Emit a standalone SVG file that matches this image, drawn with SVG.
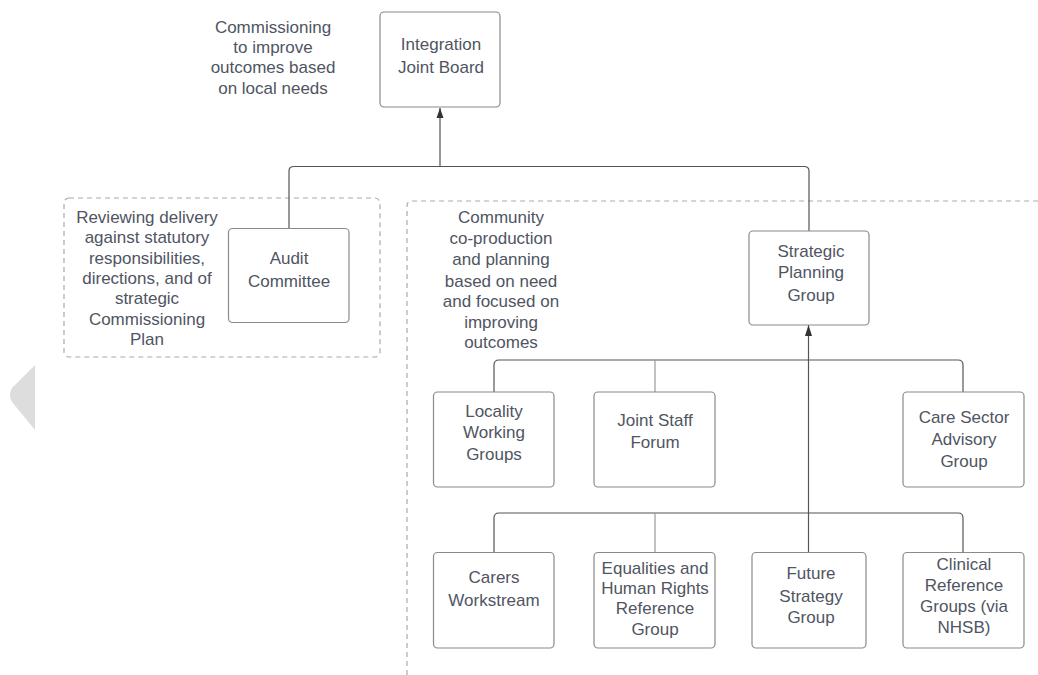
<svg xmlns="http://www.w3.org/2000/svg" width="1038" height="675" viewBox="0 0 1038 675">
<style>
  .box{fill:#fff;stroke:#8a8a8a;stroke-width:1.2}
  .dash{fill:none;stroke:#aaa;stroke-width:1.2;stroke-dasharray:5 4}
  .conn{fill:none;stroke:#555;stroke-width:1.2}
  .lite{fill:none;stroke:#999;stroke-width:1.2}
  text{font-family:"Liberation Sans",Arial,sans-serif;font-size:17px;fill:#4f5562;text-anchor:middle}
</style>
<defs>
  <marker id="arr" markerWidth="8" markerHeight="11" refX="4" refY="0" orient="auto-start-reverse" markerUnits="userSpaceOnUse" viewBox="0 0 8 11">
    <path d="M0,11 L4,0 L8,11 Z" fill="#333"/>
  </marker>
</defs>
<rect width="1038" height="675" fill="#fff"/>
<path d="M35,365 L12,388 Q8,395 12,402 L35,430 Z" fill="#ddd"/>

<g id="regions">
  <rect class="dash" x="64" y="198" width="316" height="159" rx="5"/>
  <path class="dash" d="M407,675 L407,206 Q407,201 412,201 L1038,201"/>
</g>

<g id="connectors">
  <path class="conn" d="M289,229 L289,171 Q289,166.5 294,166.5 L804,166.5 Q809,166.5 809,171 L809,231"/>
  <path class="conn" d="M440,166.5 L440,108"/>
  <path d="M440,108 L436.5,118 L443.5,118 Z" fill="#333"/>
  <path class="conn" d="M808.5,553 L808.5,325"/>
  <path d="M808.5,325 L805,336 L812,336 Z" fill="#333"/>
  <path class="conn" d="M494,392 L494,365 Q494,360 499,360 L958,360 Q963,360 963,365 L963,392"/>
  <path class="lite" d="M655,360 L655,392"/>
  <path class="conn" d="M494,552 L494,518 Q494,513 499,513 L958,513 Q963,513 963,518 L963,552"/>
  <path class="lite" d="M655,513 L655,552"/>
</g>

<g id="note-top">
  <text x="273" y="33">Commissioning<tspan x="273" y="53">to improve</tspan><tspan x="273" y="73">outcomes based</tspan><tspan x="273" y="94">on local needs</tspan></text>
</g>
<g id="note-audit">
  <text x="147" y="223">Reviewing delivery<tspan x="147" y="243">against statutory</tspan><tspan x="147" y="264">responsibilities,</tspan><tspan x="147" y="284">directions, and of</tspan><tspan x="147" y="304">strategic</tspan><tspan x="147" y="325">Commissioning</tspan><tspan x="147" y="345">Plan</tspan></text>
</g>
<g id="note-community">
  <text x="501" y="223">Community<tspan x="501" y="244">co-production</tspan><tspan x="501" y="265">and planning</tspan><tspan x="501" y="287">based on need</tspan><tspan x="501" y="307">and focused on</tspan><tspan x="501" y="328">improving</tspan><tspan x="501" y="348">outcomes</tspan></text>
</g>

<g id="ijb">
  <rect class="box" x="380" y="12" width="120" height="95" rx="4"/>
  <text x="441" y="50">Integration<tspan x="441" y="73">Joint Board</tspan></text>
</g>
<g id="audit">
  <rect class="box" x="228.5" y="228.5" width="120.5" height="94" rx="4"/>
  <text x="289" y="264">Audit<tspan x="289" y="287">Committee</tspan></text>
</g>
<g id="spg">
  <rect class="box" x="749" y="231" width="120" height="94" rx="4"/>
  <text x="811" y="257">Strategic<tspan x="811" y="278">Planning</tspan><tspan x="811" y="301">Group</tspan></text>
</g>
<g id="locality">
  <rect class="box" x="433.5" y="392" width="120.5" height="95" rx="4"/>
  <text x="494" y="417">Locality<tspan x="494" y="438">Working</tspan><tspan x="494" y="460">Groups</tspan></text>
</g>
<g id="jointstaff">
  <rect class="box" x="594" y="392" width="121" height="95" rx="4"/>
  <text x="655" y="426">Joint Staff<tspan x="655" y="448">Forum</tspan></text>
</g>
<g id="caresector">
  <rect class="box" x="903" y="392" width="121" height="95" rx="4"/>
  <text x="964" y="423">Care Sector<tspan x="964" y="445">Advisory</tspan><tspan x="964" y="467">Group</tspan></text>
</g>
<g id="carers">
  <rect class="box" x="433.5" y="552.5" width="120.5" height="95.5" rx="4"/>
  <text x="494" y="583">Carers<tspan x="494" y="606">Workstream</tspan></text>
</g>
<g id="equalities">
  <rect class="box" x="594" y="552.5" width="121" height="95.5" rx="4"/>
  <text x="655" y="574">Equalities and<tspan x="655" y="594">Human Rights</tspan><tspan x="655" y="614">Reference</tspan><tspan x="655" y="635">Group</tspan></text>
</g>
<g id="future">
  <rect class="box" x="752" y="552.5" width="114" height="95.5" rx="4"/>
  <text x="811" y="579">Future<tspan x="811" y="602">Strategy</tspan><tspan x="811" y="623">Group</tspan></text>
</g>
<g id="clinical">
  <rect class="box" x="903" y="552.5" width="121" height="95.5" rx="4"/>
  <text x="964" y="570">Clinical<tspan x="964" y="591">Reference</tspan><tspan x="964" y="612">Groups (via</tspan><tspan x="964" y="633">NHSB)</tspan></text>
</g>
</svg>
